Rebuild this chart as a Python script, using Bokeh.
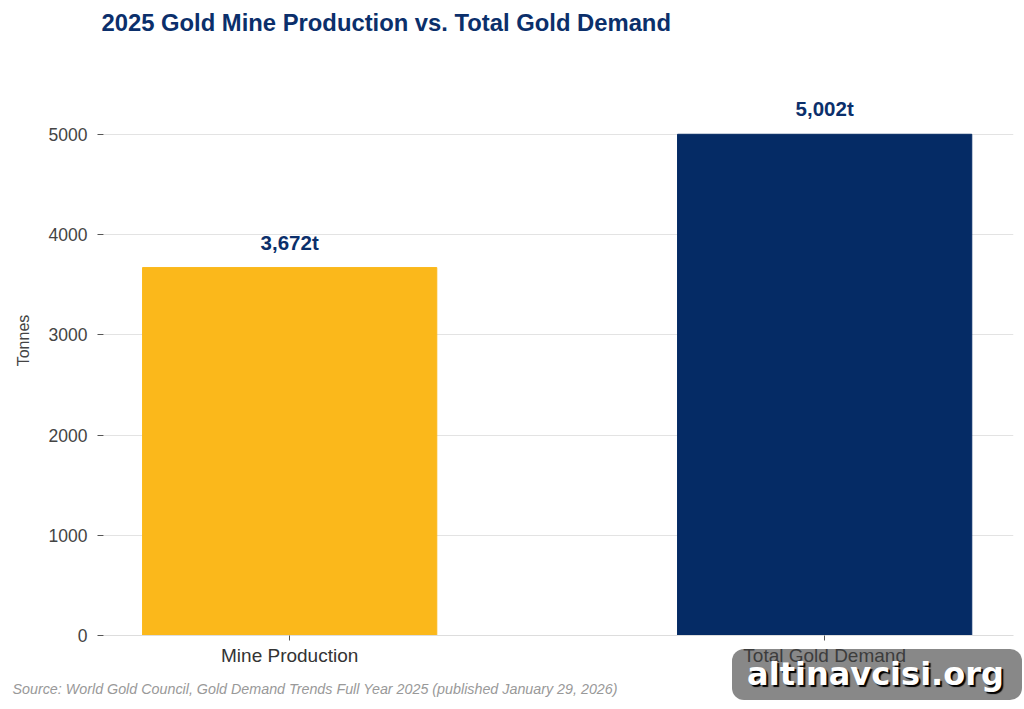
from bokeh.plotting import figure
from bokeh.layouts import column
from bokeh.models import ColumnDataSource, Div, FixedTicker, Label, Title
from bokeh.embed import file_html
from bokeh.resources import INLINE

# Data
categories = ["Mine Production", "Total Gold Demand"]
tonnes = [3672, 5002]
bar_colors = ["#FBB81B", "#052B65"]
value_labels = ["3,672t", "5,002t"]
y_ticks = [0, 1000, 2000, 3000, 4000, 5000]

positions = list(range(len(categories)))
source = ColumnDataSource(dict(x=positions, top=tonnes, color=bar_colors))

p = figure(
    width=1024, height=709,
    x_range=(-0.348, 1.353), y_range=(0, 5888),
    output_backend="svg", toolbar_location=None,
    min_border_left=103, min_border_right=11,
    min_border_top=45, min_border_bottom=74,
)
p.outline_line_color = None
p.background_fill_color = "white"
p.border_fill_color = "white"

p.vbar(x="x", top="top", width=0.55, color="color", source=source)

# Axes
p.xaxis.ticker = FixedTicker(ticks=positions)
p.xaxis.major_label_overrides = {i: c for i, c in enumerate(categories)}
p.xaxis.major_label_text_font = "Liberation Sans"
p.xaxis.major_label_text_font_size = "19px"
p.xaxis.major_label_text_color = "#333333"
p.xaxis.axis_line_color = "#dddddd"
p.xaxis.major_tick_line_color = "#555555"
p.xaxis.major_tick_in = 0
p.xaxis.major_tick_out = 5
p.xaxis.minor_tick_line_color = None
p.xaxis.major_label_standoff = 4

p.yaxis.ticker = FixedTicker(ticks=y_ticks)
p.yaxis.bounds = (0, 5790)
p.yaxis.major_label_text_font = "Liberation Sans"
p.yaxis.major_label_text_font_size = "17.5px"
p.yaxis.major_label_text_color = "#444444"
p.yaxis.axis_line_color = None
p.yaxis.major_tick_line_color = "#555555"
p.yaxis.major_tick_in = 0
p.yaxis.major_tick_out = 6
p.yaxis.minor_tick_line_color = None
p.yaxis.major_label_standoff = 10
p.yaxis.axis_label = "Tonnes"
p.yaxis.axis_label_text_font = "Liberation Sans"
p.yaxis.axis_label_text_font_style = "normal"
p.yaxis.axis_label_text_font_size = "16px"
p.yaxis.axis_label_text_color = "#444444"
p.yaxis.axis_label_standoff = 14

p.xgrid.grid_line_color = None
p.ygrid.grid_line_color = "#e3e3e3"
p.ygrid.grid_line_width = 1

# Value labels above bars
for xi, val, txt in zip(positions, tonnes, value_labels):
    p.add_layout(Label(
        x=xi, y=val, text=txt, y_offset=14,
        text_align="center", text_baseline="bottom",
        text_font="Liberation Sans", text_font_style="bold",
        text_font_size="20.5px", text_color="#0B2F6B",
    ))

# Title
p.add_layout(Title(
    text="2025 Gold Mine Production vs. Total Gold Demand",
    align="left", offset=-2, standoff=16, vertical_align="top",
    text_font="Liberation Sans", text_font_style="bold",
    text_font_size="23.8px", text_color="#0B2F6B",
), "above")

# Source note
p.add_layout(Title(
    text="Source: World Gold Council, Gold Demand Trends Full Year 2025 (published January 29, 2026)",
    align="left", offset=-91, standoff=20,
    text_font="Liberation Sans", text_font_style="italic",
    text_font_size="14.3px", text_color="#999999",
), "below")

# Watermark badge, laid over the lower-right corner of the chart
badge_html = (
    '<div style="width:290px;height:51px;box-sizing:border-box;'
    'background:rgba(66,66,66,0.63);border-radius:12px;'
    'display:flex;align-items:center;justify-content:center;'
    "font-family:'DejaVu Sans';font-weight:bold;font-size:32px;"
    'color:#ffffff;text-shadow:2px 2px 1px #000000;padding-right:3px;">'
    'altinavcisi.org</div>'
)
wm = Div(text=badge_html, width=290, height=51, margin=(-60, 0, 0, 732))

layout = column(p, wm, spacing=0)
open("out.html", "w").write(file_html(layout, INLINE))
